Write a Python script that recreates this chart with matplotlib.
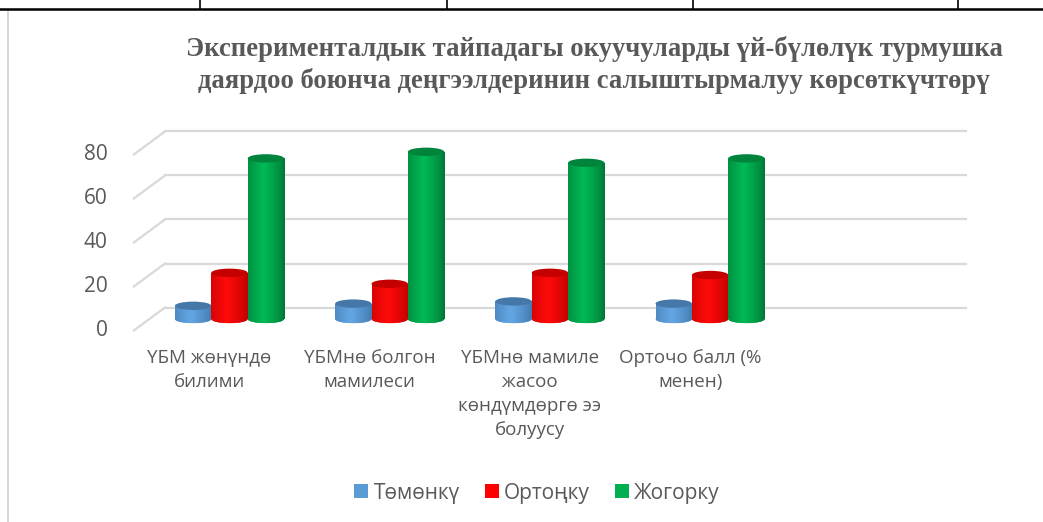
import matplotlib
matplotlib.use("Agg")
import matplotlib.pyplot as plt
import matplotlib.transforms as mtransforms
from matplotlib.colors import to_rgb
from matplotlib.lines import Line2D
from matplotlib.patches import Ellipse, Patch
import numpy as np

title = ("Эксперименталдык тайпадагы окуучуларды үй-бүлөлүк турмушка\n"
         "даярдоо боюнча деңгээлдеринин салыштырмалуу көрсөткүчтөрү")
categories = ["ҮБМ жөнүндө\nбилими",
              "ҮБМнө болгон\nмамилеси",
              "ҮБМнө мамиле\nжасоо\nкөндүмдөргө ээ\nболуусу",
              "Орточо балл (%\nменен)"]
series = ["Төмөнкү", "Ортоңку", "Жогорку"]
low = [6, 7, 8, 7]
mid = [21, 16, 21, 20]
high = [73, 76, 71, 73]
y_ticks = [0, 20, 40, 60, 80]

# (edge, middle, top) shades for the cylinders
shades = [("#3f74a8", "#64a6e4", "#4578a8"),
          ("#b80000", "#ff0a0a", "#c40000"),
          ("#006f34", "#00bb55", "#00843c")]
legend_colors = ["#5b9bd5", "#ff0000", "#00b050"]
text_gray = "#595959"
grid_gray = "#d9d9d9"

sans = ["Open Sans", "Noto Sans", "DejaVu Sans"]

# 2.2 px per unit; value 0 sits at y=319 px on the bar plane
ymin, ymax = -6, 80
fig = plt.figure(figsize=(10.43, 5.22), dpi=100)
ax = fig.add_axes([149.4 / 1043, 1 - (319 - ymin * 2.2) / 522, 801 / 1043, (ymax - ymin) * 2.2 / 522])
ax.axis("off")


def shift(dx, dy):
    return ax.transData + mtransforms.ScaledTranslation(dx / 100, dy / 100, fig.dpi_scale_trans)


back = shift(15.6, 11.5)
front = shift(-15.6, -11.5)

# cylinders
w = 0.227
eh = 3.8
x = np.arange(len(categories))
grad_pos = np.linspace(0, 1, 64)
prof = np.clip(1 - np.abs(grad_pos - 0.42) / 0.6, 0, 1) ** 0.7
for k, vals in enumerate([low, mid, high]):
    edge, middle, top = (np.array(to_rgb(c)) for c in shades[k])
    img = (edge[None, :] * (1 - prof[:, None]) + middle[None, :] * prof[:, None])[None, :, :]
    xs = x + (k - 1) * w
    bars = ax.bar(xs, vals, width=w, color=shades[k][1], zorder=2 + 3 * k)
    for xc, h, bar in zip(xs, vals, bars):
        bot = Ellipse((xc, 0), w, eh, facecolor=shades[k][1], edgecolor="none", zorder=1.5 + 3 * k)
        ax.add_patch(bot)
        for clip, y0 in ((bar, 0), (bot, -eh / 2)):
            im = ax.imshow(img, extent=[xc - w / 2, xc + w / 2, y0, h], aspect="auto",
                           interpolation="bilinear", zorder=clip.get_zorder() + 0.1)
            im.set_clip_path(clip)
        ax.add_patch(Ellipse((xc, h), w, eh, facecolor=shades[k][2], edgecolor="none",
                             zorder=2.5 + 3 * k))
ax.set_xlim(-0.5, 4.5)
ax.set_ylim(ymin, ymax)

# back wall gridlines and side diagonals
for v in y_ticks:
    ax.plot([-0.5, 4.5], [v, v], color=grid_gray, lw=1.6, transform=back, clip_on=False, zorder=0)
    p0 = front.transform((-0.5, v))
    p1 = back.transform((-0.5, v))
    fig.add_artist(Line2D([p0[0] / 1043, p1[0] / 1043], [p0[1] / 522, p1[1] / 522],
                          color=grid_gray, lw=1.6, zorder=0))
    ax.text(-0.5, v, str(v), transform=shift(-15.6 - 26, -11.5), ha="right", va="center",
            fontsize=15, color=text_gray, family=sans)

# category labels on the front plane
for i, lab in enumerate(categories):
    ax.text(i, 0, lab, transform=shift(-20, -30), ha="center", va="top", fontsize=13.5,
            color=text_gray, family=sans, linespacing=1.42)

fig.text(594 / 1043, 1 - 64.5 / 522, title, ha="center", va="center", fontsize=19.2,
         family="Liberation Serif", weight="bold", color=text_gray, linespacing=1.3)

handles = [Patch(facecolor=c) for c in legend_colors]
leg = fig.legend(handles, series, loc="center", bbox_to_anchor=(537 / 1043, 1 - 493 / 522),
                 ncol=3, frameon=False, prop={"family": sans, "size": 15},
                 handlelength=0.68, handleheight=0.68, handletextpad=0.25, columnspacing=1.2)
for t in leg.get_texts():
    t.set_color(text_gray)

# surrounding document table lines
fig.add_artist(Line2D([0, 1], [1 - 9 / 522, 1 - 9 / 522], color="black", lw=1.8))
for xv in [200, 447, 693, 958]:
    fig.add_artist(Line2D([xv / 1043, xv / 1043], [1 - 9 / 522, 1], color="black", lw=1.2))
fig.add_artist(Line2D([8 / 1043, 8 / 1043], [0, 1 - 12 / 522], color="#d0d0d0", lw=1.2))

fig.savefig("out.png", dpi=100)
